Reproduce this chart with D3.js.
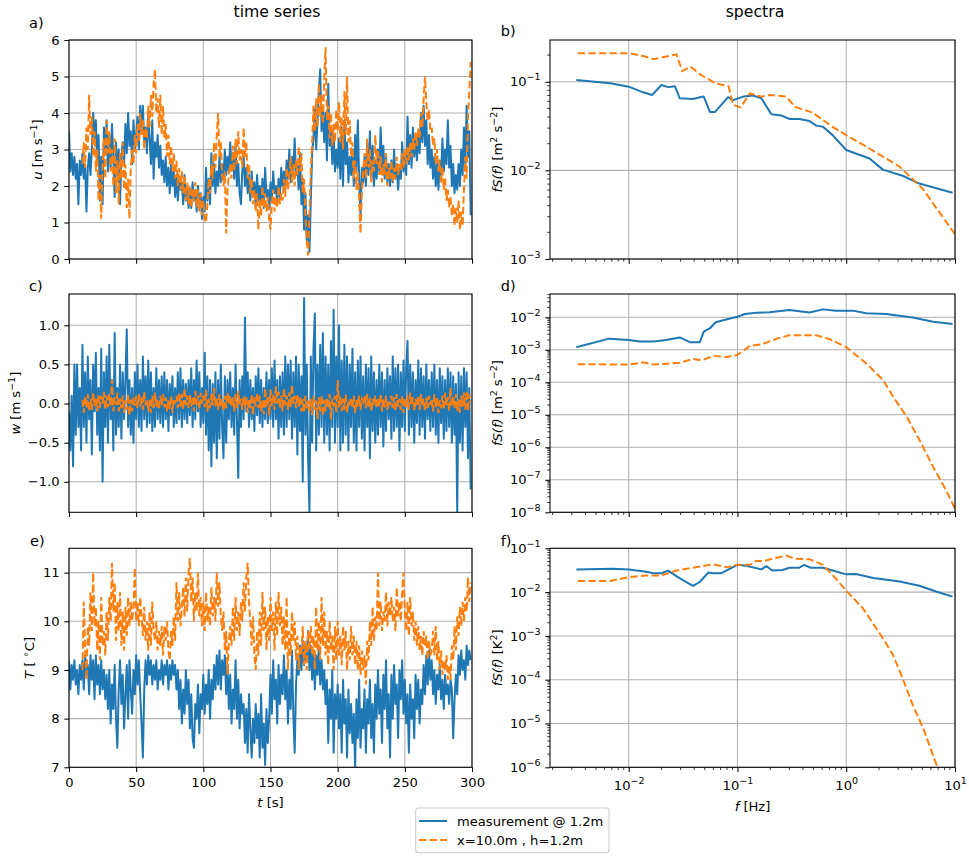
<!DOCTYPE html>
<html><head><meta charset="utf-8">
<script src="https://cdn.jsdelivr.net/npm/d3@7"></script>
<style>
body{margin:0;background:#fff}
svg{font-family:'DejaVu Sans',sans-serif}
</style></head><body>
<script>
var blue = '#1f77b4', orange = '#ff7f0e'
var seriesNames = ['measurement @ 1.2m', 'x=10.0m , h=1.2m']

// time series, one sample per second; model output starts at t=10 s
var t0Meas = 0, t0Mod = 10, dt = 1
var tTicks = [0,50,100,150,200,250,300]

var uMeas = [
 3.5,2.4,2.9,2.3,2.8,2.2,2.6,1.5,2.7,2.3, 2.9,2.2,2.6,1.3,2.5,2.9,2.3,3.0,4.0,3.3,
 3.8,2.6,3.4,1.6,2.8,1.5,3.6,2.9,3.8,2.4, 3.4,2.5,3.7,2.8,1.7,3.2,2.3,3.0,1.5,2.8,
 3.2,2.6,3.7,2.9,4.0,3.1,3.5,2.6,3.8,3.0, 3.4,3.9,3.0,4.2,3.5,4.2,3.2,3.6,2.9,3.9,
 3.3,2.6,3.8,2.2,3.2,2.8,3.4,2.5,3.1,2.3, 2.7,2.1,2.8,2.0,2.5,1.8,2.6,2.0,2.4,1.7,
 2.3,1.6,2.2,1.9,2.1,1.5,2.3,1.6,2.0,1.4, 1.9,1.4,2.1,1.6,1.9,1.3,2.0,1.5,1.8,1.1,
 1.7,1.3,2.5,1.6,2.2,1.5,2.9,2.0,2.6,1.8, 2.4,2.0,2.8,2.1,2.6,2.2,3.0,2.3,2.8,2.4,
 3.2,2.5,2.9,2.2,3.1,2.0,2.6,1.8,1.5,2.4, 2.8,2.0,2.5,1.8,2.3,1.6,2.4,1.7,2.1,1.4,
 2.3,1.6,2.0,1.5,2.2,1.4,2.5,1.7,1.9,1.4, 2.1,1.6,2.4,1.8,2.0,1.5,2.2,1.7,2.5,2.0,
 2.4,1.9,2.7,2.2,3.0,2.1,2.8,2.4,3.3,2.3, 2.6,1.9,2.9,1.5,2.2,0.8,1.8,0.5,1.2,0.2,
 1.6,2.9,3.3,4.1,3.0,3.8,4.6,5.2,3.5,4.2, 3.2,4.0,2.7,4.8,3.1,3.6,2.6,3.4,2.4,3.0,
 2.5,3.3,2.2,3.6,2.0,3.8,2.6,3.2,2.1,2.8, 2.3,3.0,2.0,3.4,2.4,3.8,2.2,1.2,2.5,2.1,
 2.8,2.0,3.2,2.3,3.5,2.2,3.1,2.0,2.7,2.2, 3.0,2.4,3.6,2.5,3.1,2.2,2.8,2.1,2.6,2.0,
 2.7,2.1,3.0,2.2,2.6,1.9,2.5,2.2,3.2,2.4, 2.8,2.3,3.9,2.6,3.4,2.5,3.6,2.8,3.3,2.7,
 3.5,2.9,4.0,3.2,4.2,3.1,3.8,2.6,3.4,2.5, 3.0,2.2,2.8,2.0,2.6,1.9,2.7,2.3,3.3,2.4,
 3.0,2.6,3.8,2.5,3.1,2.0,2.6,1.8,2.3,1.9, 2.6,2.0,3.0,2.3,3.6,2.6,4.2,2.8,3.5,1.2]
var uMod = [
 2.6,3.2,2.5,3.6,3.0,4.5,3.4,3.9,2.8,3.5, 2.4,3.0,1.6,2.3,1.1,2.6,3.3,2.2,3.8,2.9,
 3.5,2.4,3.0,2.0,3.3,1.8,2.7,1.5,2.9,2.2, 3.2,1.9,2.6,1.4,2.2,1.1,2.5,3.0,2.6,3.4,
 2.9,3.7,3.2,4.0,3.4,3.8,3.0,3.6,3.3,4.2, 3.6,4.5,3.9,4.8,5.2,4.0,4.4,3.6,4.5,3.4,
 4.2,3.3,3.7,2.8,3.4,2.6,3.1,2.4,2.9,2.2, 2.7,2.0,2.5,1.9,2.4,1.8,2.3,1.6,2.1,1.5,
 2.0,1.4,1.9,1.6,2.1,1.4,1.9,1.3,1.8,1.2, 1.6,1.1,1.0,1.5,2.2,1.8,2.6,2.2,3.2,2.5,
 3.4,4.0,2.8,3.2,2.3,2.0,2.4,0.7,1.9,2.3, 2.6,2.2,3.1,2.4,3.3,2.6,3.5,2.7,3.0,2.5,
 3.6,2.8,3.2,2.2,2.6,1.8,2.2,1.5,1.9,1.3, 1.8,0.8,1.6,1.2,2.0,1.4,1.8,1.3,1.7,1.1,
 0.8,1.5,1.9,1.3,1.7,1.4,2.0,1.5,1.8,1.6, 2.2,1.7,2.5,1.9,2.3,2.8,2.1,2.6,2.0,2.7,
 2.3,3.1,2.4,2.9,1.8,2.2,1.2,0.5,0.1,1.3, 2.4,3.2,4.2,3.5,4.4,3.6,4.8,3.9,4.5,3.7,
 4.9,5.8,3.8,4.2,3.3,4.0,3.1,3.7,3.2,4.1, 3.5,4.3,3.2,3.9,3.0,4.6,3.4,5.0,3.2,3.8,
 2.8,3.2,2.2,2.7,1.9,2.4,1.6,0.7,1.8,2.4, 2.9,2.2,3.3,2.5,3.0,2.1,2.7,2.4,3.4,2.6,
 3.0,2.3,2.8,2.1,2.6,2.3,2.9,2.0,2.5,2.2, 2.7,2.1,2.5,2.2,2.8,2.3,2.6,2.4,2.9,2.5,
 3.0,2.6,3.1,2.7,3.2,2.8,3.3,3.0,3.5,3.1, 3.6,3.3,4.0,3.6,4.4,5.0,4.3,3.8,4.1,3.5,
 3.6,3.1,3.3,2.6,3.0,2.4,2.7,2.1,2.5,1.9, 2.2,1.6,1.9,1.4,1.7,1.2,1.5,0.9,1.4,1.0,
 1.6,0.8,1.3,0.9,1.9,2.8,2.2,3.9,4.6,5.4]

var wMeas = [
 -0.1,-0.6,0.1,-0.8,0.5,-0.4,0.5,-0.3,0.2,-0.6, 0.75,-0.3,0.4,-0.5,0.6,-0.2,0.3,-0.65,0.5,-0.1,
 0.65,-0.4,0.2,-0.6,0.7,-1.0,0.4,-0.3,0.6,-0.5, 0.75,-0.2,0.3,-0.6,0.9,-0.4,0.2,-0.3,0.5,-0.45,
 0.4,-0.2,0.3,0.95,-0.3,0.3,-0.4,0.2,-0.5,0.4, -0.2,0.5,-0.3,0.3,-0.35,0.6,-0.2,0.35,-0.3,0.55,
 -0.25,0.4,-0.35,0.2,-0.3,0.45,-0.2,0.3,-0.25,0.35, -0.3,0.4,-0.2,0.3,-0.35,0.25,-0.15,0.35,-0.3,0.2,
 -0.25,0.4,-0.2,0.45,-0.3,0.3,-0.2,0.25,-0.25,0.3, -0.15,0.45,-0.3,0.3,-0.2,0.55,-0.1,0.4,-0.3,0.2,
 -0.25,0.65,-0.4,0.35,-0.6,0.3,-0.8,0.25,-0.5,0.4, -0.7,0.3,-0.45,0.5,-0.3,-0.7,0.35,-0.5,0.3,-0.2,
 0.4,-0.3,0.2,-0.4,0.5,-0.2,-0.95,0.3,-0.3,0.35, -0.2,1.1,-0.1,0.4,-0.3,0.3,-0.2,0.2,-0.35,0.35,
 -0.15,0.45,-0.25,0.3,-0.3,0.2,-0.2,0.4,-0.25,0.3, -0.2,0.45,-0.3,0.55,-0.2,0.3,-0.45,0.35,-0.3,0.4,
 -0.4,0.6,-0.3,0.5,-0.2,0.55,-0.45,0.4,-0.3,0.6, -0.65,0.5,-0.35,0.35,-1.0,1.35,-0.4,0.5,-0.7,-1.4,
 0.6,-0.5,0.7,1.15,-0.6,0.5,-0.4,0.75,-0.3,0.9, -0.5,0.6,-0.4,0.5,-0.6,0.8,-0.3,1.2,-0.5,0.6,
 -0.3,1.0,-0.6,0.55,-0.5,0.75,-0.4,0.6,-0.6,0.5, -0.3,0.7,-0.5,0.4,-0.6,0.55,-0.3,0.6,-0.45,0.35,
 -0.6,0.5,-0.3,0.45,-0.7,0.6,-0.35,0.4,-0.5,0.3, -0.4,0.5,-0.3,0.4,-0.55,0.3,-0.35,0.45,-0.2,0.35,
 -0.45,0.6,-0.35,0.45,-0.3,0.5,-0.6,0.4,-0.3,0.55, -0.35,0.45,0.8,-0.4,0.5,-0.3,0.4,-0.5,0.3,-0.25,
 0.55,-0.4,0.45,-0.3,0.35,-0.45,0.5,-0.2,0.3,-0.35, 0.4,-0.3,0.5,-0.4,0.3,-0.5,0.45,-0.25,0.35,-0.45,
 0.3,-0.35,0.45,-0.3,0.4,-0.5,0.35,-0.4,0.25,-1.4, 0.4,-0.5,0.35,-0.6,0.45,-0.3,0.4,-0.7,0.2,-1.1]
var wMod = [
 0.05,-0.12,0.1,-0.05,0.12,-0.1,0.06,-0.08,0.14,-0.03, 0.08,-0.1,0.12,-0.06,0.1,0.0,0.15,-0.08,0.1,-0.05,
 0.12,-0.04,0.3,-0.1,0.08,-0.02,0.14,-0.1,0.06,-0.06, 0.1,-0.12,0.04,-0.08,0.12,-0.15,0.05,-0.1,0.08,-0.03,
 0.1,-0.06,0.12,-0.04,0.08,-0.08,0.15,-0.02,0.06,-0.1, 0.05,-0.12,0.1,-0.06,0.14,-0.04,0.06,-0.08,0.1,-0.02,
 0.12,-0.05,0.08,-0.1,0.05,-0.07,0.1,-0.12,0.06,0.0, 0.1,-0.06,0.14,-0.04,0.12,-0.08,0.2,-0.02,0.1,-0.06,
 0.12,-0.04,0.08,-0.1,0.16,-0.02,0.1,-0.08,0.14,0.0, 0.1,-0.05,0.18,-0.1,0.06,-0.06,0.12,-0.02,0.2,-0.04,
 0.08,-0.08,0.12,-0.05,0.06,-0.1,0.1,-0.06,0.14,0.0, 0.1,-0.04,0.08,-0.1,0.12,-0.06,0.16,-0.02,0.06,-0.08,
 0.1,-0.05,0.08,-0.12,0.05,-0.06,0.12,-0.15,0.08,-0.04, 0.14,-0.06,0.1,-0.1,0.04,-0.14,0.2,-0.05,0.1,-0.15,
 0.18,-0.04,0.12,-0.08,0.22,0.0,0.15,-0.06,0.1,-0.1, 0.2,-0.02,0.1,-0.08,0.14,-0.05,0.24,0.0,0.1,-0.06,
 0.12,-0.04,0.08,-0.1,0.06,-0.12,0.1,-0.06,0.04,-0.1, 0.06,-0.15,0.1,-0.08,0.04,-0.2,0.08,-0.1,0.1,-0.16,
 0.05,-0.1,0.08,-0.06,0.12,-0.2,0.06,-0.04,0.1,-0.12, 0.3,-0.05,0.1,-0.1,0.06,-0.08,0.12,-0.12,0.04,0.0,
 0.08,-0.06,0.1,-0.12,0.05,-0.04,0.1,-0.08,0.06,0.02, 0.1,-0.06,0.12,-0.04,0.08,-0.1,0.06,-0.02,0.1,-0.06,
 0.08,-0.04,0.12,-0.1,0.06,-0.05,0.1,-0.08,0.04,-0.02, 0.1,-0.06,0.08,-0.1,0.12,-0.04,0.06,-0.08,0.1,-0.12,
 0.06,-0.05,0.1,-0.08,0.14,-0.02,0.08,-0.1,0.06,-0.04, 0.1,-0.08,0.12,-0.04,0.06,-0.1,0.08,-0.06,0.1,-0.02,
 0.06,-0.1,0.12,-0.05,0.08,-0.12,0.04,-0.06,0.1,-0.08, 0.14,-0.02,0.08,-0.1,0.2,-0.04,0.1,-0.06,0.12,-0.1,
 0.06,-0.12,0.1,-0.04,0.14,-0.08,0.16,-0.1,0.12,0.02]

var TMeas = [
 9.2,8.6,9.1,8.8,9.2,8.7,9.0,8.5,9.1,8.8, 9.2,8.6,9.3,8.9,9.1,8.5,9.3,8.8,9.2,8.4,
 9.3,8.7,9.1,8.5,9.2,8.6,9.0,8.4,8.9,8.2, 9.0,7.9,8.7,8.2,9.1,8.0,7.4,8.6,9.2,8.3,
 8.9,7.8,8.5,9.1,8.0,9.2,8.6,8.1,9.0,8.5, 9.3,8.7,9.2,8.5,7.9,7.2,8.6,9.2,8.7,9.3,
 8.9,9.2,8.7,9.1,8.8,9.2,8.6,9.0,8.8,9.2, 8.7,9.1,8.9,9.2,8.6,9.1,8.8,9.2,8.9,9.1,
 8.6,9.0,8.2,8.8,7.9,8.6,8.1,9.0,8.3,8.8, 7.8,8.5,7.6,7.4,8.3,8.0,8.7,7.7,8.5,8.2,
 8.9,8.1,8.7,8.3,9.0,8.0,8.8,8.4,9.1,8.6, 9.3,8.7,9.4,8.6,9.2,8.9,9.3,8.5,9.1,8.2,
 8.9,7.9,8.6,8.2,9.2,8.0,8.8,7.8,8.5,8.1, 8.3,7.5,8.2,7.3,8.5,7.8,7.2,8.0,7.5,8.3,
 7.6,8.1,7.2,8.5,7.4,7.9,7.05,8.2,7.5,8.0, 8.9,8.1,9.2,8.4,8.8,7.9,9.1,8.3,8.9,8.5,
 9.3,8.4,9.0,7.9,8.8,8.2,9.4,8.1,7.3,8.7, 9.2,8.9,9.5,9.0,9.6,9.1,9.5,9.2,9.8,9.0,
 9.5,8.8,9.4,8.6,9.3,8.9,9.5,8.7,9.2,8.6, 9.0,8.3,8.8,7.5,8.6,8.0,9.0,7.3,8.5,8.0,
 8.7,7.8,8.5,7.3,8.8,7.9,8.4,7.2,8.6,7.7, 8.3,7.5,8.1,7.0,8.4,7.6,8.8,7.4,8.2,7.8,
 8.6,7.3,8.4,7.9,8.8,7.6,8.3,7.3,8.7,8.0, 9.0,8.1,8.6,7.5,8.9,8.2,9.2,7.8,8.5,7.2,
 8.9,8.0,9.1,8.3,8.7,7.6,9.0,8.4,9.2,8.1, 8.8,7.9,8.5,7.3,8.7,8.0,8.4,7.6,8.9,8.2,
 8.8,7.9,8.6,8.3,9.1,8.5,9.3,8.7,9.4,8.8, 9.2,8.5,9.0,8.3,8.9,8.6,9.1,8.4,8.8,8.2,
 8.9,8.5,8.7,8.3,8.8,8.6,7.6,8.4,8.9,8.5, 9.3,8.9,9.4,9.0,9.2,8.8,9.5,9.1,9.4,9.2]
var TMod = [
 9.0,10.4,9.4,8.8,9.9,9.5,10.6,9.8,11.0,9.9, 10.3,9.4,10.0,9.2,10.5,9.5,9.8,9.3,10.2,9.6,
 10.5,10.0,11.2,10.2,10.8,9.6,10.4,9.8,10.6,9.5, 10.2,9.4,10.3,9.7,10.5,9.9,10.4,10.0,10.3,11.1,
 10.0,10.4,9.9,10.5,10.1,9.7,10.3,9.6,10.0,9.4, 10.2,9.5,10.4,9.8,9.6,10.0,9.4,9.8,9.5,9.9,
 9.3,9.9,9.6,10.0,9.4,9.2,9.8,9.5,10.1,9.6, 10.8,10.0,10.6,9.9,10.3,10.7,10.1,10.9,10.2,11.0,
 11.3,10.4,10.9,10.0,10.6,10.2,11.0,10.1,10.5,9.9, 10.4,9.8,10.6,10.0,10.3,9.9,10.7,10.1,10.5,10.0,
 11.0,10.3,10.8,10.1,9.8,10.2,9.4,9.8,8.9,9.6, 9.9,9.5,10.3,9.6,10.5,9.8,10.2,9.7,10.4,10.0,
 10.8,10.2,10.9,11.2,10.4,10.0,9.5,10.1,9.3,9.0, 9.8,9.3,10.2,9.5,10.6,9.8,10.3,9.4,10.1,9.6,
 10.5,9.8,10.2,9.4,10.4,9.7,10.6,9.9,10.3,9.5, 10.1,9.4,10.5,9.0,9.8,9.3,10.2,9.6,10.0,9.2,
 9.7,9.0,9.5,9.3,9.9,9.1,9.6,9.0,9.8,9.4, 9.9,9.3,9.7,9.0,10.3,9.4,10.0,9.2,10.5,9.5,
 10.2,9.3,9.8,9.1,10.0,9.4,9.7,9.0,9.9,9.2, 10.0,9.3,9.7,9.1,9.9,9.4,9.8,9.0,9.6,9.2,
 9.9,9.3,9.7,9.1,9.6,9.0,9.5,8.9,9.4,9.0, 9.3,8.7,9.6,9.2,10.0,9.5,10.3,9.6,10.1,9.8,
 11.0,9.9,10.4,9.8,10.2,10.0,10.6,9.9,10.4,10.1, 10.5,10.0,10.3,9.8,10.7,10.1,10.4,10.0,10.6,11.0,
 10.2,9.8,10.4,9.7,10.5,9.9,10.2,9.6,10.0,9.5, 9.9,9.4,9.7,9.3,9.8,9.5,9.7,9.2,9.6,9.3,
 9.4,9.8,9.3,9.9,9.2,9.6,9.0,9.4,8.9,9.2, 9.0,9.3,8.8,9.1,8.8,9.5,9.2,9.9,9.4,10.1,
 9.7,10.3,9.9,10.4,10.0,10.5,10.2,10.9,10.4,10.8]

// spectra fS(f)
var fUMeas = [0.0033,0.0068,0.01,0.0136,0.0164,0.020,0.023,0.0266,0.0295,0.039,0.045,0.049,0.056,0.062,0.082,0.091,0.113,0.139,0.166,0.205,0.254,0.302,0.37,0.46,0.53,0.61,0.75,1.0,1.64,2.17,3.3,4.7,9.5]
var sUMeas = [0.105,0.096,0.088,0.076,0.071,0.092,0.087,0.089,0.065,0.064,0.067,0.068,0.0455,0.0455,0.067,0.062,0.068,0.070,0.065,0.043,0.0415,0.038,0.038,0.036,0.032,0.031,0.025,0.017,0.0136,0.0102,0.0087,0.0071,0.0056]
var fUMod = [0.0034,0.01,0.0136,0.017,0.0275,0.031,0.037,0.045,0.063,0.083,0.091,0.107,0.13,0.166,0.197,0.28,0.34,0.49,0.75,1.0,1.53,3.1,5.0,10]
var sUMod = [0.21,0.21,0.195,0.18,0.204,0.132,0.148,0.122,0.096,0.089,0.055,0.0514,0.074,0.068,0.071,0.068,0.052,0.045,0.031,0.025,0.0185,0.011,0.0063,0.0019]

var fWMeas = [0.0033,0.0066,0.01,0.0127,0.017,0.022,0.0295,0.037,0.045,0.049,0.056,0.063,0.082,0.1,0.117,0.148,0.197,0.3,0.46,0.61,0.8,1.15,1.53,2.33,4.1,6.3,9.5]
var sWMeas = [0.0012,0.0022,0.0020,0.0018,0.0018,0.0020,0.0024,0.0017,0.0017,0.0036,0.0046,0.0070,0.0089,0.0104,0.0126,0.0137,0.0143,0.0168,0.014,0.0175,0.016,0.016,0.0132,0.0126,0.0098,0.0073,0.0062]
var fWMod = [0.0034,0.01,0.0136,0.017,0.0295,0.039,0.047,0.06,0.08,0.1,0.13,0.17,0.23,0.3,0.53,0.71,1.0,1.53,2.17,2.7,3.6,4.7,6.3,8.4,10]
var sWMod = [0.00036,0.00035,0.00041,0.00035,0.0004,0.00052,0.00047,0.00065,0.0006,0.0007,0.0013,0.0015,0.0022,0.0028,0.0028,0.0021,0.0012,0.00038,0.00012,0.000036,8.7e-6,1.7e-6,2.5e-7,4.3e-8,1.3e-8]

var fTMeas = [0.0033,0.0072,0.01,0.0145,0.017,0.02,0.023,0.0295,0.039,0.045,0.054,0.06,0.071,0.1,0.12,0.166,0.185,0.21,0.26,0.3,0.37,0.41,0.47,0.61,0.75,1.0,1.23,1.77,3.1,4.7,6.8,9.5]
var sTMeas = [0.033,0.034,0.033,0.029,0.027,0.027,0.031,0.0206,0.0138,0.017,0.028,0.027,0.027,0.042,0.04,0.033,0.039,0.031,0.032,0.036,0.036,0.042,0.036,0.036,0.031,0.0254,0.026,0.021,0.0174,0.014,0.0102,0.0079]
var fTMod = [0.0034,0.0068,0.01,0.0145,0.02,0.0275,0.039,0.06,0.08,0.1,0.13,0.148,0.175,0.21,0.28,0.34,0.46,0.61,0.75,1.0,1.42,2.17,2.7,3.3,4.1,5.1,6.8,8.4]
var sTMod = [0.018,0.018,0.022,0.024,0.024,0.031,0.036,0.043,0.037,0.042,0.042,0.051,0.051,0.058,0.068,0.058,0.056,0.042,0.0245,0.0108,0.0043,0.00089,0.00036,0.000107,0.000026,0.0000078,0.0000011,0.0000003]

var svg = d3.select('body').append('svg').attr('width',969).attr('height',857)
var fs = 13.1
var lw = 2, dash = '7.4,3.2'
var tick = 4.7, minorTick = 2.7, spine = 1.05

var rows = [[259,40],[512.3,294],[767.3,548.3]]
var tx = d3.scaleLinear().domain([0,300]).range([69,472])
var fx = d3.scaleLog().domain([0.00189,10]).range([550,955])

function ts(arr,t0){ return arr.map((v,i)=>[t0+i*dt,v]) }
function sp(f,s){ return f.map((v,i)=>[v,s[i]]) }

function logTicks(dom){
	var lo = Math.log10(dom[0]), hi = Math.log10(dom[1]), major = [], minor = []
	for(var k=Math.floor(lo);k<=Math.ceil(hi);k++){
		var v = Math.pow(10,k)
		if(k>=lo-1e-9 && k<=hi+1e-9) major.push(v)
		for(var m=2;m<10;m++){
			var lm = Math.log10(m*v)
			if(lm>=lo && lm<=hi) minor.push(m*v)
		}
	}
	return {major:major, minor:minor}
}

function supText(sel, base, exp){
	sel.text(null)
	sel.append('tspan').text(base)
	sel.append('tspan').attr('dy',-6).attr('font-size',9.5).text(exp)
}
function expStr(v){ var k = Math.round(Math.log10(v)); return k<0 ? '\u2212'+(-k) : ''+k }

var panelId = 0
function drawPanel(p){
	var id = panelId++
	var x = p.x, y = p.y
	var xr = x.range(), yr = y.range()
	var g = svg.append('g')
	var xt = p.xlog ? logTicks(x.domain()) : {major:tTicks, minor:[]}
	var yt = p.ylog ? logTicks(y.domain()) : {major:p.yticks, minor:[]}

	g.append('clipPath').attr('id','clip'+id).append('rect')
		.attr('x',xr[0]).attr('y',yr[1]).attr('width',xr[1]-xr[0]).attr('height',yr[0]-yr[1])

	// grid
	g.append('g').selectAll('line').data(xt.major).enter().append('line')
		.attr('x1',d=>x(d)).attr('x2',d=>x(d)).attr('y1',yr[1]).attr('y2',yr[0])
		.attr('stroke','#b0b0b0').attr('stroke-width',spine)
	g.append('g').selectAll('line').data(yt.major).enter().append('line')
		.attr('y1',d=>y(d)).attr('y2',d=>y(d)).attr('x1',xr[0]).attr('x2',xr[1])
		.attr('stroke','#b0b0b0').attr('stroke-width',spine)

	// lines
	var line = d3.line().x(d=>x(d[0])).y(d=>y(d[1]))
	var lg = g.append('g').attr('clip-path','url(#clip'+id+')')
	lg.append('path').datum(p.meas).attr('d',line).attr('fill','none')
		.attr('stroke',blue).attr('stroke-width',lw).attr('stroke-linejoin','round')
	lg.append('path').datum(p.mod).attr('d',line).attr('fill','none')
		.attr('stroke',orange).attr('stroke-width',lw).attr('stroke-dasharray',dash)

	// axes
	var xa = g.append('g').attr('transform','translate(0,'+yr[0]+')')
		.call(d3.axisBottom(x).tickValues(xt.major).tickSize(tick).tickSizeOuter(0).tickPadding(tick))
	var ya = g.append('g').attr('transform','translate('+xr[0]+',0)')
		.call(d3.axisLeft(y).tickValues(yt.major).tickSize(tick).tickSizeOuter(0).tickPadding(tick))
	;[xa,ya].forEach(a=>{
		a.attr('font-family',null).attr('font-size',null)
		a.select('.domain').remove()
		a.selectAll('line').attr('stroke','#000').attr('stroke-width',spine)
		a.selectAll('text').attr('fill','#000').attr('font-size',fs)
	})
	if(xt.minor.length){
		xa.selectAll('.mtick').data(xt.minor).enter().append('line')
			.attr('x1',d=>x(d)).attr('x2',d=>x(d)).attr('y1',0).attr('y2',minorTick)
			.attr('stroke','#000').attr('stroke-width',0.8)
	}
	if(yt.minor.length){
		ya.selectAll('.mtick').data(yt.minor).enter().append('line')
			.attr('y1',d=>y(d)).attr('y2',d=>y(d)).attr('x1',0).attr('x2',-minorTick)
			.attr('stroke','#000').attr('stroke-width',0.8)
	}
	if(!p.showX) xa.selectAll('text').remove()
	else if(p.xlog){
		xa.selectAll('text').attr('y',23).attr('dy',null).each(function(d){ supText(d3.select(this),'10',expStr(d)) })
	}
	else xa.selectAll('text').attr('y',19.5).attr('dy',null)
	if(p.ylog) ya.selectAll('text').each(function(d){ supText(d3.select(this),'10',expStr(d)) })
	else ya.selectAll('text').text(p.yfmt)

	g.append('rect').attr('x',xr[0]).attr('y',yr[1]).attr('width',xr[1]-xr[0]).attr('height',yr[0]-yr[1])
		.attr('fill','none').attr('stroke','#000').attr('stroke-width',spine)

	// panel letter
	g.append('text').attr('x',p.lx).attr('y',p.ly).attr('font-size',14.5).text(p.letter)

	// y label
	var yl = g.append('text').attr('font-size',fs).attr('text-anchor','middle')
		.attr('transform','translate('+p.ylx+','+((yr[0]+yr[1])/2)+') rotate(-90)')
	p.ylabel(yl)
}

function fmt1(d){ return d<0 ? '\u2212'+(-d).toFixed(1) : d.toFixed(1) }
function fmt0(d){ return ''+d }

function unitLabel(sym){
	return function(t){
		t.append('tspan').attr('font-style','italic').text(sym)
		t.append('tspan').text(' [m s')
		t.append('tspan').attr('dy',-5).attr('font-size',9.5).text('\u22121')
		t.append('tspan').attr('dy',5).text(']')
	}
}
function specLabel(parts){
	return function(t){
		t.append('tspan').attr('font-style','italic').text('fS(f)')
		parts.forEach(pp=>{
			if(pp[1]) t.append('tspan').attr('dy',-5).attr('font-size',9.5).text(pp[0])
			else t.append('tspan').attr('dy',pp[2]||0).text(pp[0])
		})
	}
}

drawPanel({x:tx, y:d3.scaleLinear().domain([0,6]).range(rows[0]), yticks:[0,1,2,3,4,5,6], yfmt:fmt0,
	meas:ts(uMeas,t0Meas), mod:ts(uMod,t0Mod), showX:false, letter:'a)', lx:29, ly:28, ylx:42, ylabel:unitLabel('u')})
drawPanel({x:tx, y:d3.scaleLinear().domain([-1.39,1.4]).range(rows[1]), yticks:[-1,-0.5,0,0.5,1], yfmt:fmt1,
	meas:ts(wMeas,t0Meas), mod:ts(wMod,t0Mod), showX:false, letter:'c)', lx:29, ly:291, ylx:20, ylabel:unitLabel('w')})
drawPanel({x:tx, y:d3.scaleLinear().domain([7,11.5]).range(rows[2]), yticks:[7,8,9,10,11], yfmt:fmt0,
	meas:ts(TMeas,t0Meas), mod:ts(TMod,t0Mod), showX:true, letter:'e)', lx:30, ly:546, ylx:34,
	ylabel:function(t){
		t.append('tspan').attr('font-style','italic').text('T')
		t.append('tspan').text(' [ ')
		t.append('tspan').attr('dy',-5).attr('font-size',9.5).text('\u2218')
		t.append('tspan').attr('dy',5).text('C]')
	}})

drawPanel({x:fx, xlog:true, ylog:true, y:d3.scaleLog().domain([1e-3,0.296]).range(rows[0]),
	meas:sp(fUMeas,sUMeas), mod:sp(fUMod,sUMod), showX:false, letter:'b)', lx:500.7, ly:36, ylx:502,
	ylabel:specLabel([[' [m'],['2',1],[' s',0,5],['\u22122',1],[']',0,5]])})
drawPanel({x:fx, xlog:true, ylog:true, y:d3.scaleLog().domain([1e-8,0.052]).range(rows[1]),
	meas:sp(fWMeas,sWMeas), mod:sp(fWMod,sWMod), showX:false, letter:'d)', lx:500.7, ly:291, ylx:502,
	ylabel:specLabel([[' [m'],['2',1],[' s',0,5],['\u22122',1],[']',0,5]])})
drawPanel({x:fx, xlog:true, ylog:true, y:d3.scaleLog().domain([1e-6,0.1]).range(rows[2]),
	meas:sp(fTMeas,sTMeas), mod:sp(fTMod,sTMod), showX:true, letter:'f)', lx:500.7, ly:546, ylx:502,
	ylabel:specLabel([[' [K'],['2',1],[']',0,5]])})

// column titles and x labels
svg.append('text').attr('x',277).attr('y',17).attr('text-anchor','middle').attr('font-size',15.7).text('time series')
svg.append('text').attr('x',755).attr('y',17).attr('text-anchor','middle').attr('font-size',15.7).text('spectra')

var xl1 = svg.append('text').attr('x',270.5).attr('y',807).attr('text-anchor','middle').attr('font-size',fs)
xl1.append('tspan').attr('font-style','italic').text('t')
xl1.append('tspan').text(' [s]')
var xl2 = svg.append('text').attr('x',752.5).attr('y',811).attr('text-anchor','middle').attr('font-size',fs)
xl2.append('tspan').attr('font-style','italic').text('f')
xl2.append('tspan').text(' [Hz]')

// legend
var leg = svg.append('g')
leg.append('rect').attr('x',415.7).attr('y',808).attr('width',193.3).attr('height',44.7).attr('rx',3)
	.attr('fill','#fff').attr('fill-opacity',0.8).attr('stroke','#cccccc').attr('stroke-width',spine)
var legRows = leg.selectAll('g.item').data(seriesNames).enter().append('g')
	.attr('transform',(d,i)=>'translate(0,'+(821+i*19)+')')
legRows.append('line').attr('x1',419).attr('x2',447).attr('y1',0).attr('y2',0)
	.attr('stroke',(d,i)=>i?orange:blue).attr('stroke-width',lw)
	.attr('stroke-dasharray',(d,i)=>i?dash:null)
legRows.append('text').attr('x',457).attr('dy','0.35em').attr('font-size',fs).text(d=>d)
</script>
</body></html>
